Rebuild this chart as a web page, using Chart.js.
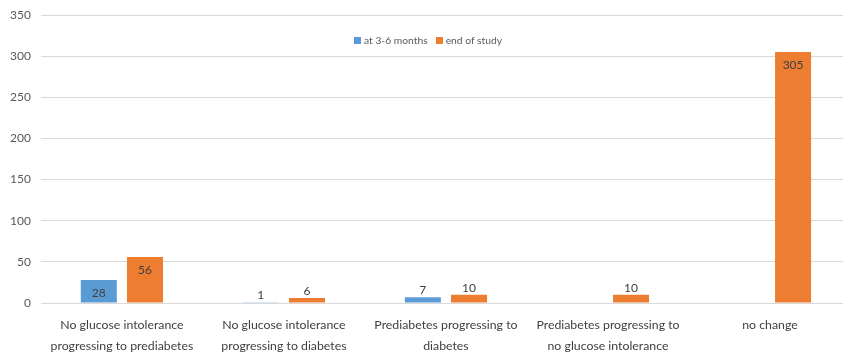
<!DOCTYPE html>
<html lang="en">
    <head>
        <meta charset="UTF-8" />
        <title>Glucose status change</title>
        <style>
            body {
                margin: 0;
                padding: 0;
                background: #ffffff;
                font-family: 'Lato', sans-serif;
                overflow: hidden;
            }

            /* the original is cropped a few pixels past the last gridline */
            #wrap {
                position: relative;
                width: 843px;
                height: 356px;
                overflow: hidden;
            }

            #legend {
                position: absolute;
                top: 34px;
                left: 354px;
                font-size: 10.3px;
                color: #595959;
                white-space: nowrap;
            }

            #legend span.box {
                display: inline-block;
                width: 7px;
                height: 7px;
                margin-right: 3px;
            }

            #legend span.item {
                margin-right: 8px;
            }
        </style>
    </head>
    <body>
        <div id="wrap">
            <canvas id="bar-chart" width="851" height="356"></canvas>
            <div id="legend"></div>
        </div>
    </body>
    <script src="https://cdn.jsdelivr.net/npm/chart.js@4.4.0/dist/chart.umd.min.js"></script>
    <script>
        // data
        const categories = [
            ["No glucose intolerance", "progressing to prediabetes"],
            ["No glucose intolerance", "progressing to diabetes"],
            ["Prediabetes progressing to", "diabetes"],
            ["Prediabetes progressing to", "no glucose intolerance"],
            ["no change"],
        ];
        const seriesNames = ["at 3-6 months", "end of study"];
        const atThreeSixMonths = [28, 1, 7, null, null];
        const endOfStudy = [56, 6, 10, 10, 305];
        const yTicks = [0, 50, 100, 150, 200, 250, 300, 350];

        const colors = ["#5B9BD5", "#ED7D31"];

        // legend drawn over the plot, like the original
        let legend = document.getElementById("legend");
        seriesNames.forEach((name, i) => {
            legend.innerHTML += '<span class="item"><span class="box" style="background:' + colors[i] + '"></span>' + name + "</span>";
        });

        // value labels: inside the top of tall bars, above short ones
        const valueLabels = {
            id: "valueLabels",
            afterDatasetsDraw(chart) {
                const ctx = chart.ctx;
                ctx.save();
                ctx.font = "12px Lato";
                ctx.fillStyle = "#404040";
                ctx.textAlign = "center";
                chart.data.datasets.forEach((ds, di) => {
                    chart.getDatasetMeta(di).data.forEach((bar, i) => {
                        let v = ds.data[i];
                        if (v == null) return;
                        let h = bar.base - bar.y;
                        if (h > 20) {
                            ctx.textBaseline = "top";
                            ctx.fillText(String(v), bar.x, bar.y + 7);
                        } else {
                            ctx.textBaseline = "bottom";
                            ctx.fillText(String(v), bar.x, bar.y - 1);
                        }
                    });
                });
                ctx.restore();
            },
        };

        let chart = new Chart(document.getElementById("bar-chart"), {
            type: "bar",
            data: {
                labels: categories,
                datasets: [
                    {
                        label: seriesNames[0],
                        data: atThreeSixMonths,
                        backgroundColor: colors[0],
                    },
                    {
                        label: seriesNames[1],
                        data: endOfStudy,
                        backgroundColor: colors[1],
                    },
                ],
            },
            options: {
                responsive: false,
                animation: false,
                layout: {
                    padding: { top: 0, right: 0, left: 0, bottom: 0 },
                },
                datasets: {
                    bar: {
                        categoryPercentage: 0.57,
                        barPercentage: 0.78,
                    },
                },
                plugins: {
                    legend: { display: false },
                    tooltip: { enabled: false },
                },
                scales: {
                    x: {
                        grid: { display: false, drawTicks: false, tickLength: 0 },
                        border: { display: false },
                        ticks: {
                            color: "#404040",
                            font: { family: "Lato", size: 12.3, lineHeight: 1.68 },
                            padding: 12,
                            maxRotation: 0,
                            autoSkip: false,
                        },
                        afterFit: (axis) => {
                            axis.height = 53;
                        },
                    },
                    y: {
                        min: 0,
                        max: 350,
                        afterBuildTicks: (axis) => {
                            axis.ticks = yTicks.map((v) => ({ value: v }));
                        },
                        afterFit: (axis) => {
                            axis.paddingTop = 15;
                        },
                        grid: { color: "#d9d9d9", lineWidth: 1, drawTicks: false },
                        border: { display: false },
                        ticks: {
                            color: "#595959",
                            font: { family: "Lato", size: 12 },
                            padding: 10,
                        },
                    },
                },
            },
            plugins: [valueLabels],
        });
    </script>
</html>
